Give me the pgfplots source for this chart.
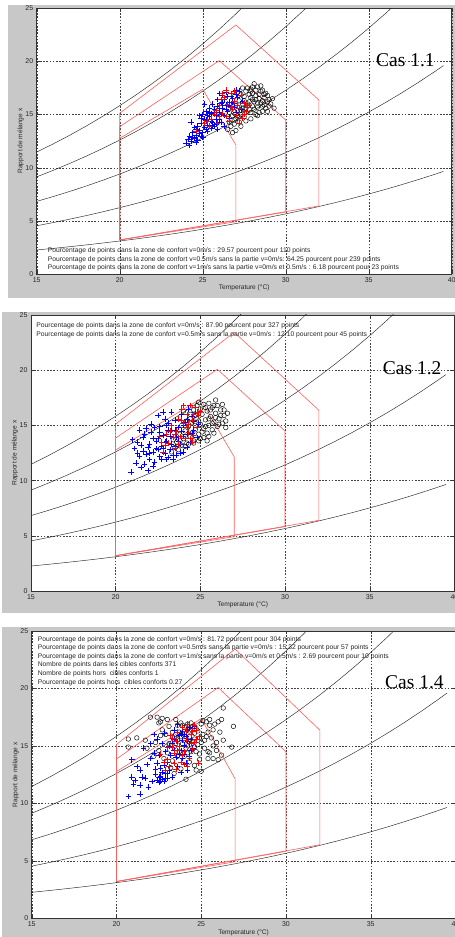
\documentclass[border=0pt]{standalone}
\usepackage{fontspec}
\setmainfont{Liberation Sans}
\newfontfamily\timesf{Liberation Serif}
\usepackage{pgfplots}
\usepackage{pgfplotstable}
\pgfplotsset{compat=1.18}

\definecolor{figgray}{RGB}{200,200,200}
\definecolor{zonered}{RGB}{255,95,95}

% humidity curves (RH 20..100 %, P = 94 kPa), mixing ratio in g/kg
\pgfplotstableread{
T    h20   h40    h60    h80    h100
15   2.261 4.538  6.832  9.142  11.470
16   2.411 4.840  7.289  9.757  12.244
17   2.570 5.161  7.774  10.408 13.065
18   2.738 5.500  8.286  11.098 13.934
19   2.916 5.859  8.830  11.829 14.856
20   3.104 6.238  9.405  12.603 15.834
21   3.302 6.639  10.012 13.422 16.868
22   3.512 7.063  10.655 14.289 17.964
23   3.733 7.511  11.335 15.205 19.123
24   3.966 7.984  12.053 16.175 20.351
25   4.213 8.483  12.811 17.200 21.649
26   4.472 9.010  13.613 18.284 23.024
27   4.746 9.565  14.458 19.428 24.476
28   5.034 10.151 15.351 20.638 26.014
29   5.338 10.768 16.294 21.916 nan
30   5.658 11.419 17.288 23.266 nan
31   5.994 12.106 18.337 24.692 nan
32   6.349 12.828 19.442 26.196 nan
33   6.721 13.589 20.608 nan    nan
34   7.113 14.390 21.838 nan    nan
35   7.524 15.233 23.133 nan    nan
36   7.957 16.120 24.497 nan    nan
37   8.411 17.053 25.935 nan    nan
38   8.889 18.035 nan    nan    nan
39   9.389 19.067 nan    nan    nan
39.5 9.650 19.603 nan    nan    nan
}\curves

\pgfplotsset{
  cas/.style={
    scale only axis, anchor=south west,
    xmin=15, xmax=40, ymin=0, ymax=25,
    xtick={15,20,...,40}, ytick={0,5,...,25},
    grid=major,
    major grid style={black!75, line width=0.4pt, dash pattern=on 1.6pt off 1.6pt},
    axis line style={black!80, line width=0.5pt},
    tick align=inside, major tick length=3pt,
    tick style={black!80, line width=0.4pt},
    axis background/.style={fill=white},
    ticklabel style={font=\fontsize{7}{8}\selectfont, text=black!85},
    /pgf/number format/assume math mode=true,
    xlabel={Temperature (°C)}, ylabel={Rapport de mélange x},
    label style={font=\fontsize{6.6}{8}\selectfont, text=black!85},
    xlabel style={at={([yshift=-14pt]axis description cs:0.5,0)}, anchor=center},
    ylabel style={at={([xshift=-16pt]axis description cs:0,0.5)}, anchor=center},
  },
  rh/.style={black!85, line width=0.45pt, mark=none},
  zone/.style={zonered, line width=0.6pt, mark=none},
  circ/.style={only marks, mark=o, mark size=2.3pt, black, mark options={line width=0.45pt}},
  bplus/.style={only marks, mark=+, mark size=2.8pt, blue, mark options={line width=0.5pt}},
  rplus/.style={only marks, mark=+, mark size=2.8pt, red, mark options={line width=0.5pt}},
}
\tikzset{
  note/.style={anchor=west, inner sep=0pt, font=\fontsize{6.75}{7}\selectfont, text=black!85},
  castext/.style={anchor=base west, inner sep=0pt, font=\timesf\fontsize{19.5}{20}\selectfont},
}

\newcommand{\commonlines}{%
  \addplot[rh] table[x=T,y=h20] {\curves};
  \addplot[rh] table[x=T,y=h40] {\curves};
  \addplot[rh] table[x=T,y=h60] {\curves};
  \addplot[rh] table[x=T,y=h80] {\curves};
  \addplot[rh] table[x=T,y=h100] {\curves};
  \addplot[zone] coordinates {(20,3.2) (27,4.92) (27,12.14) (25,17.38) (20,12.77) (20,3.2)};
  \addplot[zone] coordinates {(20,3.2) (30,5.83) (30,14.49) (26,20.08) (20,13.86) (20,3.2)};
  \addplot[zone] coordinates {(20,3.2) (32,6.40) (32,16.37) (27,23.43) (20,15.12) (20,3.2)};
}

\begin{document}
\begin{tikzpicture}[x=1pt,y=1pt]
\useasboundingbox (0,0) rectangle (455,937);
\clip (0,0) rectangle (455,937);
\fill[figgray] (8.3,638.7) rectangle (455,932);
\fill[figgray] (1.7,323.7) rectangle (455,625.3);
\fill[figgray] (1.7,0) rectangle (455,310.3);

% ---------- Cas 1.1 ----------
\begin{axis}[cas, at={(36.7pt,663pt)}, width=415pt, height=265.7pt]
\commonlines
\addplot[circ] coordinates {
(26.5,13.6) (26.7,13.9) (26.6,14.3) (26.9,14.1) (27.0,14.6) (26.8,14.9) (27.2,14.3) (27.3,15.0)
(27.1,15.4) (27.5,14.8) (27.4,15.6) (27.6,15.2) (27.8,15.5) (27.7,16.0) (27.5,16.3) (27.9,16.6)
(27.3,16.9) (27.6,17.2) (27.9,17.4) (28.1,17.9) (28.3,17.6) (28.0,17.0) (28.2,16.4) (28.4,16.9)
(28.6,17.3) (28.5,16.1) (28.3,15.7) (28.0,15.8) (28.7,16.6) (28.9,16.2) (29.1,16.0) (28.8,15.6)
(28.6,15.3) (29.0,15.8) (28.4,15.2) (28.2,15.0) (27.9,14.6) (27.6,14.4) (27.3,13.9) (27.0,13.5)
(26.8,13.3) (27.8,16.9) (27.2,16.3) (27.0,16.0) (26.8,15.6) (26.6,15.2) (26.9,16.7) (27.1,17.1)
(27.4,17.5) (28.8,17.0) (29.2,16.5) (28.1,16.2) (27.7,15.8) (27.4,16.0) (28.5,17.7) (28.2,17.3)
(27.9,17.2) (27.5,16.7) (29.3,15.6) (28.9,15.3) (27.2,14.8) (27.6,15.6) (27.9,15.2) (28.1,15.5)
(28.3,16.1) (28.6,16.3) (28.7,15.9) (28.4,16.5) (28.0,16.4) (27.8,16.2) (28.2,16.8) (28.5,17.2)
(28.0,17.6) (27.7,17.5) (28.9,16.8) (29.0,16.4) (27.3,15.4) (27.1,14.9) (26.9,14.5) (28.6,15.8)
(28.3,14.9) (28.7,16.9)};
\addplot[bplus] coordinates {
(24.0,12.3) (24.1,12.7) (24.3,12.5) (24.2,13.0) (24.5,12.8) (24.4,13.3) (24.6,13.1) (24.8,13.5)
(24.7,13.9) (25.0,13.3) (25.1,13.8) (24.9,14.2) (25.3,14.0) (25.2,14.5) (25.4,14.8) (25.6,14.3)
(25.5,15.1) (25.7,15.5) (25.8,14.9) (25.9,15.8) (26.0,15.2) (26.1,16.1) (26.2,15.6) (26.3,16.4)
(26.4,15.9) (26.5,16.7) (26.6,16.2) (26.7,17.0) (26.8,16.5) (26.9,15.7) (27.0,16.9) (27.2,17.2)
(26.3,14.9) (26.0,14.6) (25.8,14.1) (25.5,13.7) (25.3,13.4) (25.0,12.9) (24.7,12.6) (26.5,15.3)
(26.7,15.8) (26.9,16.1) (27.1,16.6) (25.2,15.3) (25.4,15.6) (25.0,15.0) (24.9,14.7) (25.6,16.0)
(25.9,16.4) (26.2,16.8) (26.4,17.1) (24.5,13.8) (24.3,14.3) (25.7,13.9) (26.1,14.3) (26.6,14.7)
(27.3,15.5) (27.0,15.2) (24.8,14.9) (25.1,16.0) (26.0,17.0) (27.4,16.3) (24.2,12.1) (24.6,12.4)
(25.9,13.6) (26.3,13.9) (24.4,12.9) (24.8,13.2) (25.2,13.6) (25.6,14.0) (25.8,14.6) (26.1,15.0)
(26.4,15.5) (26.6,15.9) (26.8,16.2) (25.1,14.6) (25.3,14.9) (25.7,15.2) (26.0,15.6) (26.2,16.2)
(24.6,13.6) (25.5,14.4) (24.9,13.0) (26.7,16.7) (27.0,17.3) (25.4,15.2)};
\addplot[rplus] coordinates {
(24.6,13.4) (25.1,14.2) (25.5,14.6) (25.8,15.4) (26.0,15.9) (26.3,16.6) (26.4,17.3) (26.7,17.0)
(26.9,16.3) (27.1,15.9) (27.3,16.8) (27.5,16.1) (27.6,15.3) (27.4,14.7) (27.0,14.9) (26.6,14.4)
(26.2,15.1) (25.9,14.2) (25.4,13.9) (26.8,15.5) (27.8,15.9) (26.5,16.0) (25.7,15.0) (27.2,14.2)
(26.1,16.4) (26.9,17.2) (27.7,15.7) (25.3,14.4) (26.4,14.8) (27.2,15.6) (26.7,15.7) (26.0,14.8)
(27.5,15.0) (26.2,17.0)};
\node[note] at (axis cs:15.66,2.19) {Pourcentage de points dans la zone de confort v=0m/s : 29.57 pourcent pour 110 points};
\node[note] at (axis cs:15.66,1.38) {Pourcentage de points dans la zone de confort v=0.5m/s sans la partie v=0m/s: 64.25 pourcent pour 239 points};
\node[note] at (axis cs:15.66,0.59) {Pourcentage de points dans la zone de confort v=1m/s sans la partie v=0m/s et 0.5m/s : 6.18 pourcent pour 23 points};
\node[castext] at (axis cs:35.44,19.57) {Cas 1.1};
\end{axis}

% ---------- Cas 1.2 ----------
\begin{axis}[cas, at={(31pt,346pt)}, width=423.4pt, height=276pt]
\commonlines
\addplot[circ] coordinates {
(23.3,12.6) (23.5,13.0) (23.7,12.8) (23.6,13.5) (23.9,13.2) (24.0,13.8) (24.2,13.4) (23.8,14.2)
(24.1,14.5) (24.4,14.0) (24.6,13.6) (24.3,14.9) (24.5,15.3) (24.7,14.6) (24.9,14.2) (25.0,13.8)
(24.8,15.6) (25.0,15.1) (25.2,14.7) (25.4,14.3) (25.1,16.0) (25.3,15.5) (25.5,15.0) (25.7,14.6)
(25.4,16.3) (25.6,15.8) (25.8,15.3) (26.0,14.9) (25.7,16.6) (25.9,16.1) (26.1,15.6) (26.3,15.2)
(26.0,16.8) (26.2,16.4) (26.4,15.9) (26.5,15.4) (25.2,16.9) (24.6,16.4) (24.4,16.0) (24.9,17.1)
(25.5,17.0) (24.2,15.4) (23.9,15.0) (24.6,13.4) (24.9,13.6) (25.2,13.9) (25.5,14.0) (25.8,14.3)
(23.4,13.7) (26.6,16.1) (26.3,16.9) (24.1,13.1) (24.0,16.3) (25.9,17.3) (26.5,14.8) (24.3,13.3)
(24.5,14.3) (24.7,15.0) (24.9,15.4) (25.1,14.4) (25.3,14.9) (25.5,15.6) (25.7,15.2) (25.9,15.7)
(26.1,15.1) (25.0,16.5) (25.3,16.6) (25.6,16.4) (24.7,15.9) (24.4,15.6) (24.1,14.0) (23.8,13.6)
(25.8,16.8) (26.2,15.9) (24.8,16.8) (25.4,13.6) (26.4,16.4)};
\addplot[bplus] coordinates {
(20.9,10.8) (21.2,11.6) (21.4,12.2) (21.1,12.9) (21.3,13.5) (21.6,13.9) (21.5,11.2) (21.7,11.5)
(21.8,12.4) (21.9,13.0) (21.6,12.7) (22.0,11.9) (22.1,14.4) (22.3,14.8) (22.5,15.9) (22.4,13.6)
(22.2,12.6) (22.6,12.2) (22.7,13.1) (22.8,14.1) (22.9,12.5) (23.0,11.9) (23.1,15.2) (23.0,13.6)
(23.2,12.8) (23.3,14.6) (23.4,12.3) (23.5,15.5) (23.6,13.9) (23.7,14.8) (23.8,13.3) (23.9,16.0)
(24.0,12.6) (24.1,15.3) (24.2,14.2) (24.3,16.5) (24.4,13.5) (24.5,15.8) (24.6,14.6) (24.7,16.2)
(24.8,13.9) (22.9,15.6) (22.6,14.9) (23.3,16.2) (22.0,13.3) (21.8,14.7) (22.3,11.7) (22.7,11.9)
(23.1,12.1) (23.6,12.3) (24.2,13.0) (24.9,15.1) (21.0,13.7) (21.9,10.9) (22.4,12.9) (23.2,14.0)
(23.9,14.5) (24.4,16.8) (22.1,15.1) (23.5,13.1) (24.0,15.0) (22.8,16.2) (21.4,14.6) (22.5,13.8)
(23.8,12.5) (21.5,13.2) (21.7,14.2) (22.0,12.5) (22.2,13.8) (22.5,12.8) (22.6,14.4) (22.9,13.5)
(23.1,14.6) (23.3,13.3) (23.5,14.6) (23.7,13.6) (24.0,14.0) (24.2,15.6) (24.5,14.3) (22.2,11.3)
(22.8,12.9) (23.4,11.9) (21.3,12.5) (23.0,15.0) (24.6,15.4)};
\addplot[rplus] coordinates {
(22.6,14.0) (22.9,13.2) (23.1,13.4) (23.2,14.5) (23.4,13.9) (23.6,14.5) (23.7,15.6) (23.9,16.5)
(24.0,15.2) (24.1,13.8) (24.2,16.0) (24.3,14.4) (24.4,16.8) (24.5,15.5) (24.6,14.1) (24.7,16.6)
(24.8,14.8) (24.9,15.9) (23.5,12.9) (23.8,14.0) (24.5,13.5) (25.0,16.3) (23.3,15.0) (22.8,12.6)
(24.3,15.1) (23.0,14.2) (23.5,14.2) (24.0,16.8) (24.2,14.8) (24.6,16.0) (23.7,13.3) (24.8,16.2)
(23.9,15.5) (24.4,13.8) (22.7,13.5)};
\node[note] at (axis cs:15.30,24.03) {Pourcentage de points dans la zone de confort v=0m/s : 87.90 pourcent pour 327 points};
\node[note] at (axis cs:15.30,23.25) {Pourcentage de points dans la zone de confort v=0.5m/s sans la partie v=0m/s : 12.10 pourcent pour 45 points};
\node[castext] at (axis cs:35.77,19.57) {Cas 1.2};
\end{axis}

% ---------- Cas 1.4 ----------
\begin{axis}[cas, at={(31.7pt,18.7pt)}, width=423.8pt, height=287.3pt]
\commonlines
\addplot[circ] coordinates {
(20.7,15.6) (20.7,14.9) (21.2,15.7) (21.7,15.5) (21.8,14.8) (22.0,17.5) (22.4,17.5) (22.7,17.4)
(22.5,17.0) (23.0,17.3) (23.5,17.3) (22.7,16.4) (22.6,15.9) (22.3,15.3) (22.9,16.0) (23.1,16.7)
(23.3,16.2) (23.6,16.8) (23.8,17.0) (24.0,16.6) (23.9,16.1) (24.2,16.9) (24.5,16.7) (24.3,16.3)
(24.7,16.5) (25.0,16.9) (25.3,17.1) (25.5,17.3) (26.0,17.1) (25.7,16.4) (25.4,16.2) (25.1,16.0)
(24.9,15.7) (25.2,15.5) (25.6,15.7) (25.9,15.3) (26.3,15.5) (26.8,14.9) (26.3,18.3) (26.9,16.7)
(25.7,15.0) (26.0,13.8) (25.5,14.4) (25.2,14.8) (24.9,14.3) (24.6,14.9) (24.9,13.8) (24.6,13.3)
(25.0,12.8) (24.1,12.1) (23.4,12.6) (23.8,13.0) (24.3,13.6) (24.0,14.1) (23.7,14.5) (23.4,14.9)
(23.1,15.2) (23.3,13.7) (23.6,15.5) (23.9,15.2) (24.2,15.0) (24.5,15.4) (24.8,15.1) (24.4,14.5)
(23.0,14.4) (22.8,13.9) (22.5,14.6) (23.2,13.1) (24.1,15.8) (24.6,16.1) (23.5,16.0) (22.2,14.1)
(25.8,16.9) (26.1,16.2) (25.4,13.9) (24.7,12.9) (25.9,14.6) (26.2,14.2) (23.5,15.2) (23.8,15.8)
(24.0,15.5) (24.3,15.8) (24.6,15.6) (24.1,14.8) (24.4,15.1) (23.7,16.2) (24.8,16.3) (24.2,14.4)
(23.6,14.1) (24.7,14.5) (25.0,15.3) (25.3,15.8) (25.1,17.2) (25.5,16.8) (24.4,17.0) (23.9,16.8)
(22.6,17.1) (25.4,14.5) (25.7,13.9) (26.2,17.3)};
\addplot[bplus] coordinates {
(20.7,10.6) (21.4,10.8) (20.9,12.3) (21.0,11.7) (21.4,11.6) (21.4,12.9) (21.6,14.8) (20.9,13.8)
(21.2,13.2) (21.7,12.2) (21.9,11.4) (22.1,11.9) (22.3,12.5) (22.4,12.0) (22.5,11.8) (22.6,12.4)
(22.7,12.1) (22.8,11.9) (22.9,12.6) (23.0,12.2) (23.1,12.9) (22.6,13.1) (22.4,13.5) (22.0,13.9)
(22.2,14.4) (22.5,14.2) (22.2,16.0) (22.4,15.6) (22.7,15.2) (22.9,14.5) (23.0,13.6) (23.2,14.2)
(23.4,15.6) (23.4,16.4) (23.5,14.0) (23.6,13.2) (23.7,15.9) (23.8,14.6) (23.9,16.3) (24.0,15.1)
(24.1,15.8) (24.1,13.5) (24.2,16.4) (24.3,14.1) (24.4,15.6) (24.5,16.5) (24.6,16.7) (24.5,14.8)
(23.8,12.7) (24.2,12.9) (23.3,12.3) (22.0,15.2) (21.8,13.4) (23.6,16.9) (24.3,15.2) (22.8,16.1)
(23.1,15.0) (24.0,14.3) (22.3,13.0) (23.9,13.9) (22.5,12.3) (22.7,12.7) (22.9,12.2) (23.0,12.6)
(22.8,13.3) (23.3,15.2) (23.6,15.4) (23.8,16.0) (24.0,16.0) (24.2,15.4) (23.4,14.6) (23.7,14.3)
(21.5,12.3) (21.1,12.0) (22.6,11.9) (23.9,15.5) (24.3,16.6) (24.4,14.6)};
\addplot[rplus] coordinates {
(22.6,14.3) (22.8,13.6) (23.0,14.9) (23.1,13.2) (23.3,15.7) (23.4,14.4) (23.5,13.0) (23.6,16.2)
(23.7,15.0) (23.8,13.6) (23.9,16.6) (24.0,14.5) (24.1,15.5) (24.2,16.9) (24.3,13.9) (24.4,16.0)
(24.5,14.7) (24.6,15.3) (24.7,16.4) (24.8,13.5) (24.9,15.8) (23.2,15.9) (22.9,12.9) (24.2,13.2)
(23.5,15.4) (24.6,16.8) (23.0,13.8) (23.3,14.9) (23.6,14.6) (23.9,14.2) (24.1,16.3) (24.4,15.2)
(24.0,13.4) (24.7,15.6) (23.4,13.5) (24.5,16.3)};
\node[note] at (axis cs:15.35,24.28) {Pourcentage de points dans la zone de confort v=0m/s : 81.72 pourcent pour 304 points};
\node[note] at (axis cs:15.35,23.55) {Pourcentage de points dans la zone de confort v=0.5m/s sans la partie v=0m/s : 15.32 pourcent pour 57 points};
\node[note] at (axis cs:15.35,22.80) {Pourcentage de points dans la zone de confort v=1m/s sans la partie v=0m/s et 0.5m/s : 2.69 pourcent pour 10 points};
\node[note] at (axis cs:15.35,22.04) {Nombre de points dans les cibles conforts 371};
\node[note] at (axis cs:15.35,21.29) {Nombre de points hors\ \ cibles conforts 1};
\node[note] at (axis cs:15.35,20.54) {Pourcentage de points hors\ \ cibles conforts 0.27};
\node[castext] at (axis cs:35.84,20.02) {Cas 1.4};
\end{axis}
\end{tikzpicture}
\end{document}
